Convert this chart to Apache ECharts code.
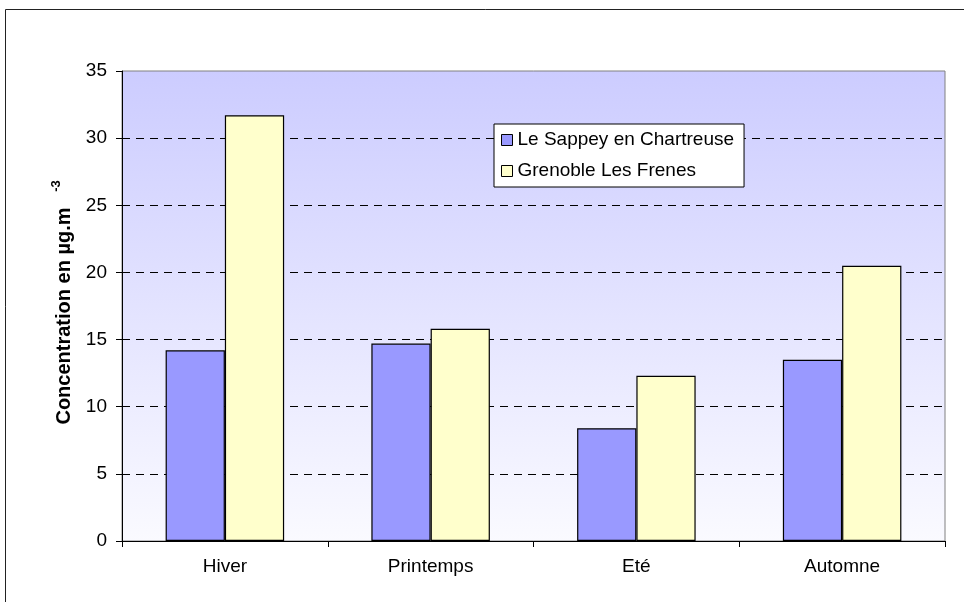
<!DOCTYPE html>
<html>
<head>
<meta charset="utf-8">
<script src="https://cdn.jsdelivr.net/npm/echarts@6/dist/echarts.min.js"></script>
<style>
html,body{margin:0;padding:0;background:#fff;}
#c{width:964px;height:602px;}
</style>
</head>
<body>
<div id="c"></div>
<script>
const categories = ['Hiver', 'Printemps', 'Eté', 'Automne'];
const sappey = [14.2, 14.7, 8.4, 13.5];
const grenoble = [31.7, 15.8, 12.3, 20.5];
const seriesNames = ['Le Sappey en Chartreuse', 'Grenoble Les Frenes'];
const yTitle = 'Concentration en µg.m';
const yTitleSup = '-3';

const FONT = '"Liberation Sans", Arial, sans-serif';
const chart = echarts.init(document.getElementById('c'), null, {renderer: 'canvas'});
chart.setOption({
  animation: false,
  backgroundColor: '#ffffff',
  textStyle: {fontFamily: FONT},
  grid: {
    left: 122, right: 19, top: 71, bottom: 61,
    show: true,
    borderColor: '#808080',
    borderWidth: 1,
    backgroundColor: new echarts.graphic.LinearGradient(0, 0, 0, 1, [
      {offset: 0, color: '#ccccff'},
      {offset: 1, color: '#fafaff'}
    ])
  },
  legend: {
    orient: 'vertical',
    left: 494, top: 124,
    padding: [6, 10, 6, 7],
    backgroundColor: '#ffffff',
    borderColor: '#000',
    borderWidth: 1,
    itemWidth: 11, itemHeight: 11,
    itemGap: 11,
    icon: 'rect',
    itemStyle: {borderColor: '#000', borderWidth: 1},
    textStyle: {fontFamily: FONT, fontSize: 19, color: '#000', lineHeight: 20},
    data: seriesNames
  },
  xAxis: {
    type: 'category',
    data: categories,
    axisLine: {lineStyle: {color: '#000', width: 1}},
    axisTick: {show: true, length: 6, alignWithLabel: false, lineStyle: {color: '#000'}},
    axisLabel: {fontFamily: FONT, fontSize: 19, color: '#000', margin: 16},
    splitLine: {show: false}
  },
  yAxis: {
    type: 'value',
    min: 0, max: 35, interval: 5,
    axisLine: {show: true, lineStyle: {color: '#000', width: 1}},
    axisTick: {show: true, length: 6, lineStyle: {color: '#000'}},
    axisLabel: {fontFamily: FONT, fontSize: 19, color: '#000', margin: 15},
    splitLine: {show: true, showMinLine: false, showMaxLine: false,
      lineStyle: {color: '#000', type: [8, 6], width: 1}}
  },
  series: [
    {
      name: seriesNames[0], type: 'bar', data: sappey,
      barGap: '0%', barCategoryGap: '42.4%',
      itemStyle: {color: '#9999ff', borderColor: '#000', borderWidth: 1.2}
    },
    {
      name: seriesNames[1], type: 'bar', data: grenoble,
      barGap: '0%', barCategoryGap: '42.4%',
      itemStyle: {color: '#ffffcc', borderColor: '#000', borderWidth: 1.2}
    }
  ],
  graphic: [
    {
      type: 'rect', silent: true, z: 100,
      shape: {x: 5.5, y: 9.5, width: 2000, height: 2000},
      style: {fill: 'none', stroke: '#222', lineWidth: 1}
    },
    {
      type: 'text', x: 64, y: 316, rotation: Math.PI / 2,
      style: {text: yTitle, font: 'bold 20px ' + FONT, fill: '#000', align: 'center', verticalAlign: 'middle'}
    },
    {
      type: 'text', x: 56, y: 186, rotation: Math.PI / 2,
      style: {text: yTitleSup, font: 'bold 13px ' + FONT, fill: '#000', align: 'center', verticalAlign: 'middle'}
    }
  ]
});
</script>
</body>
</html>
